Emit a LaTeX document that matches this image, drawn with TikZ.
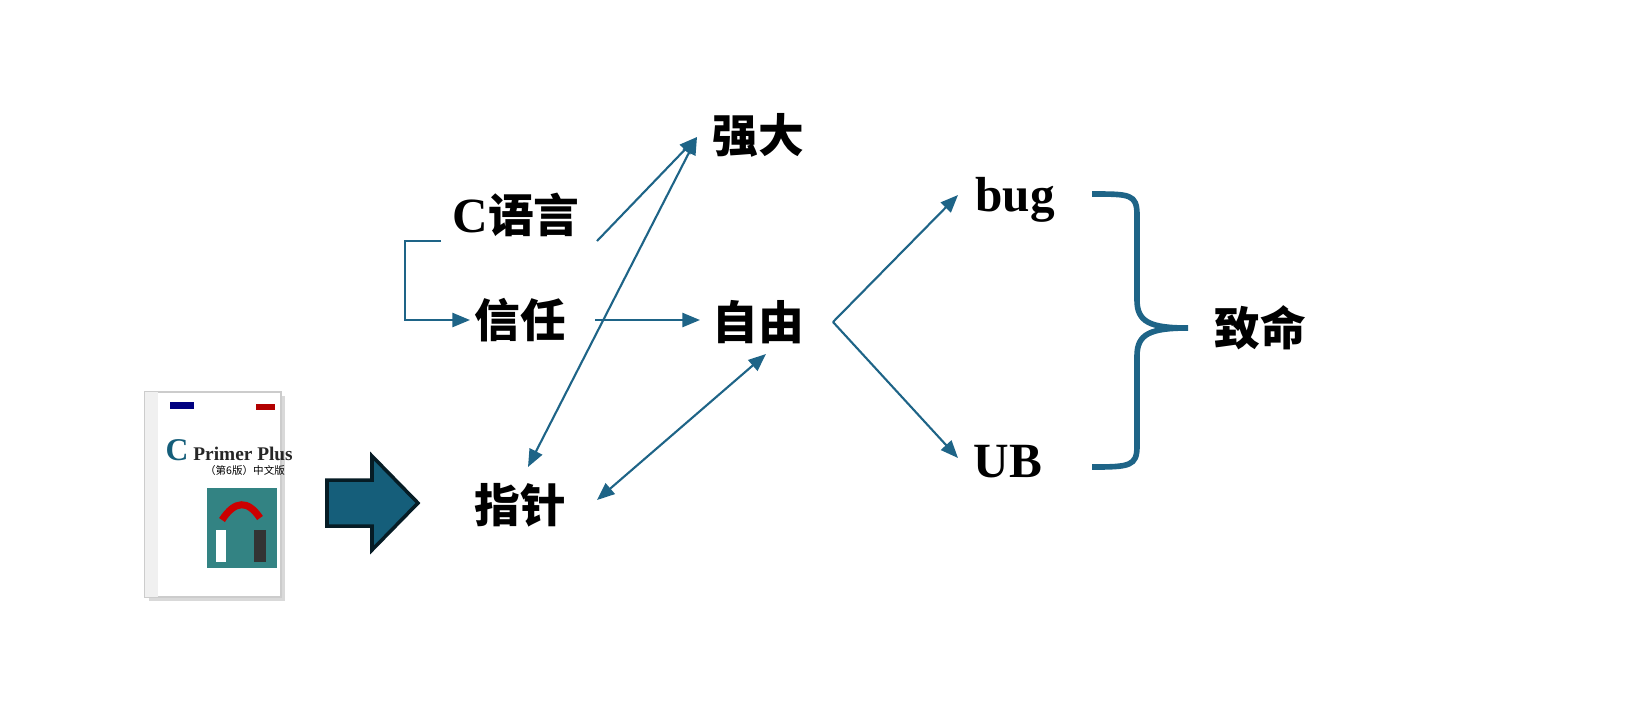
\documentclass[tikz,border=0pt]{standalone}
\usepackage{fontspec}
\setmainfont{Liberation Serif}
\newfontfamily\cjk{Noto Sans CJK SC}
\usetikzlibrary{arrows.meta}
\definecolor{ln}{RGB}{30,100,135}
\definecolor{blk}{RGB}{21,94,122}

\begin{document}
\begin{tikzpicture}[x=0.01cm, y=-0.01cm,
        word/.style={font=\fontsize{13}{15}\selectfont\bfseries\cjk, inner sep=0pt},
        latin/.style={font=\fontsize{14}{16}\selectfont\bfseries, inner sep=0pt},
        link/.style={draw=ln, line width=0.6pt, -{Triangle[length=5pt,width=4pt]}},
        both/.style={link, {Triangle[length=5pt,width=4pt]}-{Triangle[length=5pt,width=4pt]}},
    ]
    \useasboundingbox (0,0) rectangle (1639,714);

    \node[word] (strong) at (758,135) {强大};
    \node[word] (clang) at (516,215) {{\fontsize{14}{16}\selectfont\bfseries\rmfamily C}语言};
    \node[word] (trust) at (520,320) {信任};
    \node[word] (free) at (758,322) {自由};
    \node[word] (ptr) at (520,505) {指针};
    \node[latin] (bug) at (1015,200) {bug};
    \node[latin] (ub) at (1008,462) {UB};
    \node[word] (fatal) at (1260,328) {致命};

    \coordinate (c1) at (441,241);
    \coordinate (c2) at (597,241);
    \coordinate (t1) at (470,320);
    \coordinate (t2) at (595,320);
    \coordinate (f1) at (700,320);
    \coordinate (s1) at (697,137);
    \coordinate (p1) at (528,467);
    \coordinate (p2) at (597,500);
    \coordinate (f2) at (766,354);
    \coordinate (f3) at (833,322);
    \coordinate (b1) at (958,195);
    \coordinate (u1) at (958,458);

    \draw[link] (c1) -- (405,241) -- (405,320) -- (t1);
    \draw[link] (c2) -- (s1);
    \draw[link] (t2) -- (f1);
    \draw[both] (p1) -- (s1);
    \draw[both] (p2) -- (f2);
    \draw[link] (f3) -- (b1);
    \draw[link] (f3) -- (u1);

    % brace
    \draw[ln, line width=1.6pt] (1092,194) .. controls (1130,194) and (1137,194) .. (1137,215)
        -- (1137,300) .. controls (1137,322) and (1150,328) .. (1188,328)
        .. controls (1150,328) and (1137,334) .. (1137,356)
        -- (1137,446) .. controls (1137,466) and (1130,467) .. (1092,467);

    % block arrow
    \draw[fill=blk, draw=black!70!blk, line width=1pt]
        (327,480) -- (372,480) -- (372,456) -- (418,503) -- (372,550) -- (372,526) -- (327,526) -- cycle;

    % book
    \fill[black!15] (149,396) rectangle (285,601);
    \draw[black!20, fill=white] (145,392) rectangle (281,597);
    \fill[black!6] (145,392) rectangle (158,597);
    \fill[blue!50!black] (170,402) rectangle (194,409);
    \fill[red!70!black] (256,404) rectangle (275,410);
    \node[font=\fontsize{5.5}{6}\selectfont\bfseries, inner sep=0pt, text=black!85, anchor=base west] (title) at (165,460)
        {\textcolor{blk}{\fontsize{9}{9}\selectfont C} Primer Plus};
    \node[font=\fontsize{3}{4}\selectfont\cjk, inner sep=0pt] (edition) at (245,470) {（第6版）中文版};
    \fill[teal!70!cyan!60!black!80] (207,488) rectangle (277,568);
    \fill[white] (216,530) rectangle (226,562);
    \fill[black!80] (254,530) rectangle (266,562);
    \draw[red!80!black, line width=2pt] (222,520) .. controls (235,500) and (248,500) .. (260,518);
\end{tikzpicture}
\end{document}
